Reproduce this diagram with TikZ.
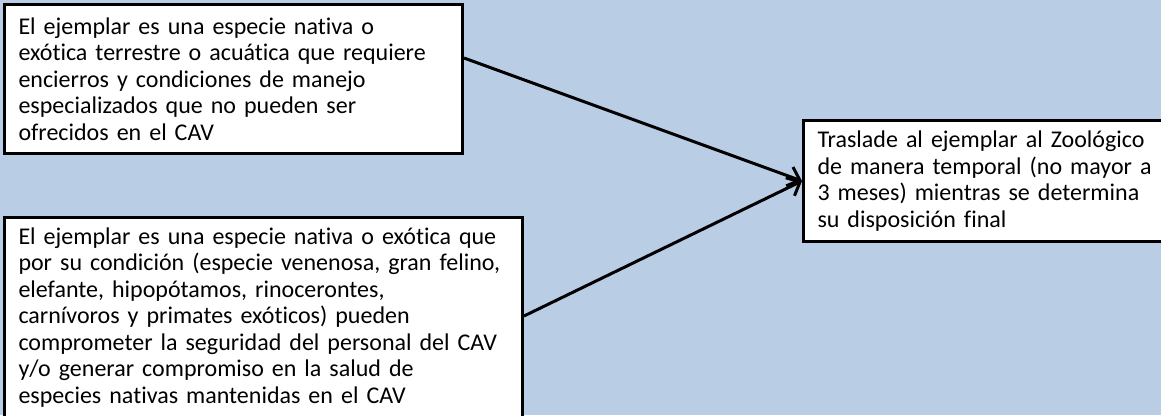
\documentclass[tikz,border=0pt]{standalone}
\usepackage{fontspec}
\setmainfont{Carlito}[Ligatures=NoCommon]
\usetikzlibrary{arrows.meta,calc}
\definecolor{bgblue}{HTML}{B9CDE5}
\begin{document}
\begin{tikzpicture}[x=1pt,y=-1pt,
  box/.style={draw=black,line width=3pt,fill=white,align=left,anchor=north west,
    inner xsep=14pt,inner ysep=8pt,font=\fontsize{24}{26.5}\selectfont},
  link/.style={line width=3pt,-{Straight Barb[length=11pt,width=20pt,line width=3pt]}}]
\fill[bgblue] (0,0) rectangle (1161,415);
\useasboundingbox (0,0) rectangle (1161,415);
\node[box,minimum width=458pt,minimum height=149pt,text width=430pt] (b1) at (3,3)
{El ejemplar es una especie nativa o\\
exótica terrestre o acuática que requiere\\
encierros y condiciones de manejo\\
especializados que no pueden ser\\
ofrecidos en el CAV};
\node[box,minimum width=518pt,text width=490pt,inner ysep=10pt] (b2) at (3,216)
{El ejemplar es una especie nativa o exótica que\\
por su condición (especie venenosa, gran felino,\\
elefante, hipopótamos, rinocerontes,\\
carnívoros y primates exóticos) pueden\\
comprometer la seguridad del personal del CAV\\
y/o generar compromiso en la salud de\\
especies nativas mantenidas en el CAV\\
\strut};
\node[box,minimum width=365pt,minimum height=121pt,text width=337pt] (b3) at (802,119)
{Traslade al ejemplar al Zoológico\\
de manera temporal (no mayor a\\
3 meses) mientras se determina\\
su disposición final};
\coordinate (s1) at ($(b1.north east)+(0,55)$);
\coordinate (s2) at ($(b2.north east)+(0,100)$);
\draw[link] (s1) -- (b3.west);
\draw[link] (s2) -- (b3.west);
\end{tikzpicture}
\end{document}
